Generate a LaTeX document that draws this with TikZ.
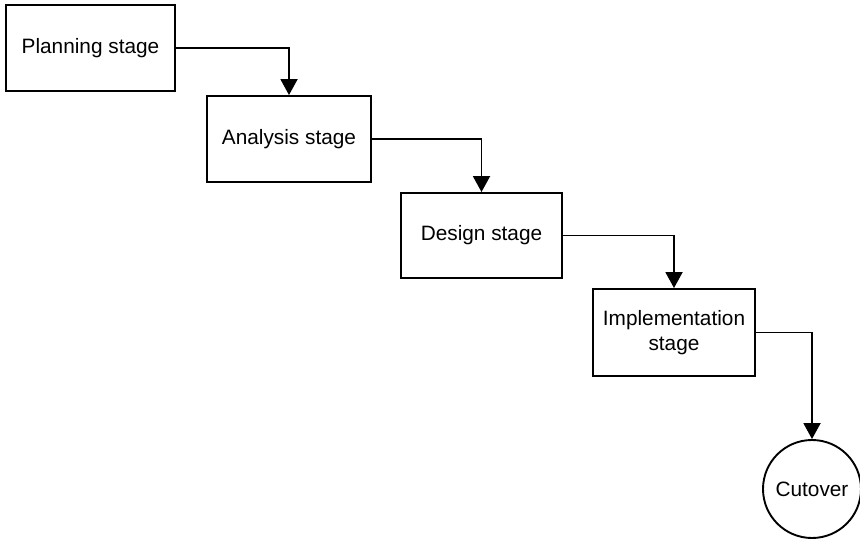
\documentclass[tikz,border=0pt]{standalone}
\usepackage{fontspec}
\setmainfont{Liberation Sans}
\usetikzlibrary{arrows.meta}
\begin{document}
\begin{tikzpicture}[x=1pt,y=-1pt,
  stagebox/.style={draw, line width=1.9pt, rectangle, align=center,
    inner sep=0pt, font=\fontsize{20.8}{25}\selectfont},
  endcircle/.style={draw, line width=1.9pt, circle, inner sep=0pt,
    minimum size=98pt, font=\fontsize{20.8}{25}\selectfont},
  flow/.style={line width=1.9pt, -{Triangle[width=17pt,length=16pt]}}]
  \useasboundingbox (0,0) rectangle (860,540);
  \node[stagebox, minimum width=169pt, minimum height=86pt] (plan) at (90.5,48) {Planning stage};
  \node[stagebox, minimum width=164pt, minimum height=86pt] (anal) at (289,139) {Analysis stage};
  \node[stagebox, minimum width=161pt, minimum height=85pt] (design) at (481.5,235.5) {Design stage};
  \node[stagebox, minimum width=162pt, minimum height=87pt] (impl) at (674,332.5) {Implementation\\stage};
  \node[endcircle] (cut) at (812,489) {Cutover};
  \draw[flow] (plan.east) -| (anal.north);
  \draw[flow] (anal.east) -| (design.north);
  \draw[flow] (design.east) -| (impl.north);
  \draw[flow] (impl.east) -| (cut.north);
\end{tikzpicture}
\end{document}
